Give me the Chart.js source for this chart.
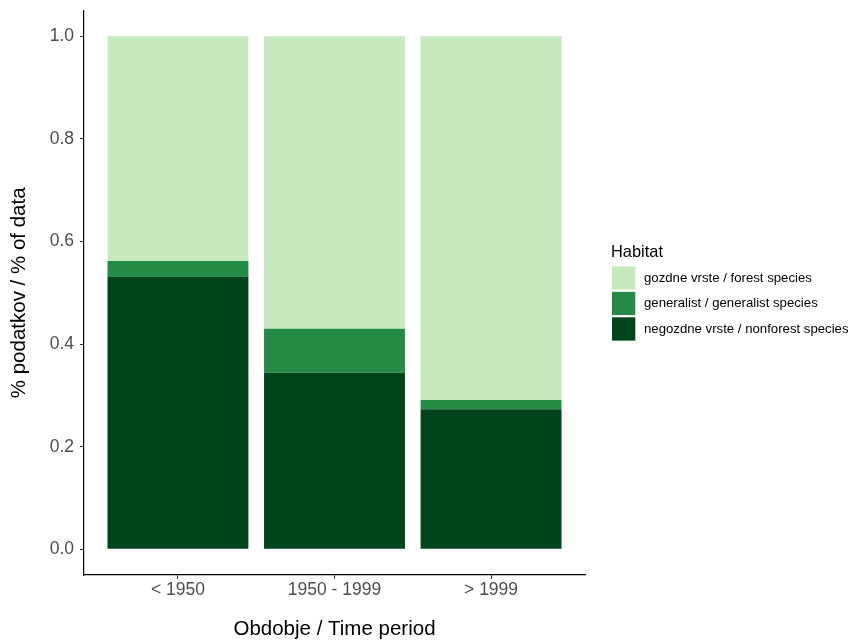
<!DOCTYPE html>
<html><head><meta charset="utf-8">
<script src="https://cdn.jsdelivr.net/npm/chart.js@4/dist/chart.umd.min.js"></script>
<style>html,body{margin:0;padding:0;background:#fff}</style>
</head><body>
<canvas id="c" width="852" height="643"></canvas>
<script>
const periods = ['< 1950', '1950 - 1999', '> 1999'];
const nonforest = [0.531, 0.344, 0.273];
const generalist = [0.031, 0.086, 0.018];
const forest = [0.438, 0.570, 0.709];
const yTicks = [0, 0.2, 0.4, 0.6, 0.8, 1.0];
const seriesNames = ['negozdne vrste / nonforest species', 'generalist / generalist species', 'gozdne vrste / forest species'];
const seriesColors = ['#00441b', '#238b45', '#c7e9c0'];
const legendTitle = 'Habitat';
const xTitle = 'Obdobje / Time period';
const yTitle = '% podatkov / % of data';

const FONT = "'Liberation Sans', Arial, sans-serif";
const toPts = arr => arr.map((v, i) => ({x: i + 1, y: v}));
const seriesValues = [nonforest, generalist, forest];

const legendPlugin = {
  id: 'ggLegend',
  afterDraw(chart) {
    const ctx = chart.ctx, ca = chart.chartArea;
    const ds = chart.data.datasets;
    const box = 23.3, step = 25.5;
    const x0 = ca.right + 27;
    const titleGap = 14;
    const mid = (ca.top + ca.bottom) / 2;
    const top = mid - 40.5;
    ctx.save();
    ctx.fillStyle = '#000';
    ctx.font = '16.4px ' + FONT;
    ctx.textBaseline = 'middle';
    ctx.textAlign = 'left';
    ctx.fillText(legendTitle, x0 - 1, top);
    ctx.font = '13.2px ' + FONT;
    for (let k = 0; k < ds.length; k++) {
      const d = ds[ds.length - 1 - k];
      const by = top + titleGap + k * step;
      ctx.fillStyle = d.backgroundColor;
      ctx.fillRect(x0, by, box, box);
      ctx.fillStyle = '#000';
      ctx.fillText(d.label, x0 + 32, by + box / 2);
    }
    ctx.restore();
  }
};

new Chart(document.getElementById('c'), {
  type: 'bar',
  data: {
    datasets: seriesValues.map((vals, i) => ({
      label: seriesNames[i],
      data: toPts(vals),
      backgroundColor: seriesColors[i],
      borderWidth: 0,
      categoryPercentage: 1,
      barPercentage: 0.9
    }))
  },
  options: {
    responsive: false,
    animation: false,
    layout: {padding: {top: 10.65, right: 267, bottom: 0, left: 0}},
    plugins: {legend: {display: false}, tooltip: {enabled: false}},
    scales: {
      x: {
        type: 'linear', stacked: true, min: 0.4, max: 3.6, offset: false,
        afterBuildTicks: s => { s.ticks = periods.map((p, i) => ({value: i + 1})); },
        afterFit: s => { s.height = 68; s.paddingLeft = 0; s.paddingRight = 0; },
        ticks: {
          callback: (v) => periods[Math.round(v) - 1],
          color: '#4d4d4d', font: {family: FONT, size: 17.5}, padding: 1, maxRotation: 0, autoSkip: false
        },
        grid: {display: true, offset: false, drawOnChartArea: false, drawTicks: true, tickLength: 4, tickColor: '#333', tickWidth: 1},
        border: {display: true, color: '#000', width: 1.2},
        title: {display: true, text: xTitle, color: '#000', font: {family: FONT, size: 20.5}, padding: {top: 0, bottom: 1}}
      },
      y: {
        type: 'linear', stacked: true, min: -0.05, max: 1.05,
        afterBuildTicks: s => { s.ticks = yTicks.map(v => ({value: v})); },
        afterFit: s => { s.width = 84; s.paddingTop = 0; s.paddingBottom = 0; },
        ticks: {
          callback: v => Number(v).toFixed(1),
          color: '#4d4d4d', font: {family: FONT, size: 17.5}, padding: 6
        },
        grid: {display: true, drawOnChartArea: false, drawTicks: true, tickLength: 4, tickColor: '#333', tickWidth: 1},
        border: {display: true, color: '#000', width: 1.2},
        title: {display: true, text: yTitle, color: '#000', font: {family: FONT, size: 20.5}, padding: {top: 7, bottom: 0}}
      }
    }
  },
  plugins: [legendPlugin]
});
</script>
</body></html>
